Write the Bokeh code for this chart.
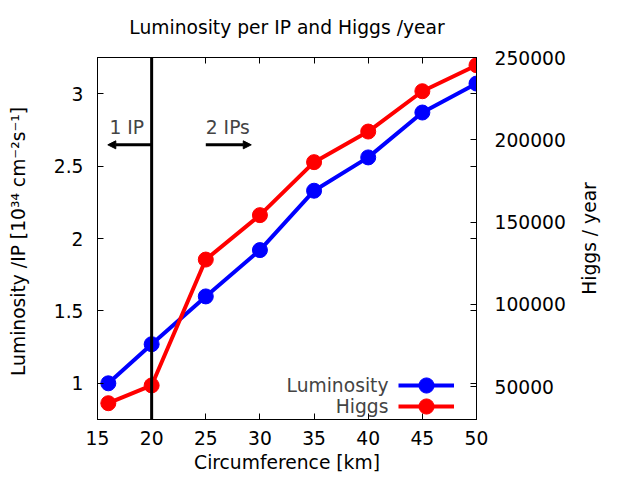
from bokeh.plotting import figure
from bokeh.layouts import row
from bokeh.models import (Range1d, LinearAxis, Span, Arrow, NormalHead, Label,
                          Legend, LegendItem, FixedTicker, BasicTickFormatter)
from bokeh.embed import file_html
from bokeh.resources import INLINE

# ---- data ----
circumference = [16, 20, 25, 30, 35, 40, 45, 50]
luminosity = [1.00, 1.27, 1.60, 1.92, 2.33, 2.56, 2.87, 3.07]
higgs = [39900, 50700, 127200, 154200, 186400, 205000, 229500, 245300]
x_ticks = [15, 20, 25, 30, 35, 40, 45, 50]
y_ticks = [1, 1.5, 2, 2.5, 3]
y2_ticks = [50000, 100000, 150000, 200000, 250000]
ip_boundary = 20
arrow_y = 2.647

FONT = "DejaVu Sans"
FS = "18.7px"

p = figure(width=575, height=480, output_backend="svg", toolbar_location=None,
           x_range=Range1d(15, 50), y_range=Range1d(0.75, 3.25),
           min_border_left=97, min_border_right=99, min_border_top=57,
           min_border_bottom=61)
p.extra_y_ranges = {"higgs": Range1d(30000, 250000)}

p.grid.visible = False
p.outline_line_color = "black"
p.outline_line_width = 1
p.outline_line_alpha = 1
p.background_fill_color = "white"
p.border_fill_color = "white"

def style_axis(ax, labels=True):
    ax.axis_line_color = "black"
    ax.major_tick_in = 6
    ax.major_tick_out = 0
    ax.minor_tick_line_color = None
    ax.major_tick_line_color = "black"
    ax.major_label_text_font = FONT
    ax.major_label_text_font_size = FS
    ax.major_label_text_color = "black" if labels else None
    ax.axis_label_text_font = FONT
    ax.axis_label_text_font_size = FS
    ax.axis_label_text_font_style = "normal"
    ax.axis_label_text_color = "black"

xa = p.xaxis[0]
xa.ticker = FixedTicker(ticks=x_ticks)
xa.axis_label = "Circumference [km]"
style_axis(xa)
xa.major_label_standoff = 11
xa.axis_label_standoff = 4

ya = p.yaxis[0]
ya.ticker = FixedTicker(ticks=y_ticks)
ya.axis_label = "Luminosity /IP  [10³⁴ cm⁻²s⁻¹]"
style_axis(ya)
ya.major_label_standoff = 14
ya.axis_label_standoff = 22

# mirrored ticks on the right (for the left axis), without labels
ym = LinearAxis(ticker=FixedTicker(ticks=y_ticks))
style_axis(ym, labels=False)
ym.major_label_standoff = 0
p.add_layout(ym, "right")

y2 = LinearAxis(y_range_name="higgs", ticker=FixedTicker(ticks=y2_ticks),
                formatter=BasicTickFormatter(use_scientific=False))
style_axis(y2)
y2.major_label_standoff = 18
p.add_layout(y2, "right")

# mirrored ticks on top; its label carries the chart title
xt = LinearAxis(ticker=FixedTicker(ticks=x_ticks),
                axis_label="Luminosity per IP and Higgs /year")
style_axis(xt, labels=False)
xt.major_label_standoff = 0
xt.axis_label_standoff = 20
p.add_layout(xt, "above")

# data
lum_line = p.line(circumference, luminosity, line_color="#0000ff", line_width=4)
lum_pts = p.scatter(circumference, luminosity, size=15, fill_color="#0000ff",
                    line_color="#0000ff")
hig_line = p.line(circumference, higgs, y_range_name="higgs", line_color="#ff0000",
                  line_width=4)
hig_pts = p.scatter(circumference, higgs, y_range_name="higgs", size=15,
                    fill_color="#ff0000", line_color="#ff0000")

# IP boundary
p.add_layout(Span(location=ip_boundary, dimension="height", line_color="black",
                  line_width=3))
p.add_layout(Arrow(x_start=ip_boundary, y_start=arrow_y, x_end=15.95, y_end=arrow_y,
                   line_width=3, line_color="black",
                   end=NormalHead(size=8, fill_color="black", line_color="black")))
p.add_layout(Arrow(x_start=25, y_start=arrow_y, x_end=29.2, y_end=arrow_y,
                   line_width=3, line_color="black",
                   end=NormalHead(size=8, fill_color="black", line_color="black")))
p.add_layout(Label(x=16.1, y=2.764, text="1 IP", text_font=FONT, text_font_size=FS,
                   text_baseline="middle", text_align="left"))
p.add_layout(Label(x=25.0, y=2.764, text="2 IPs", text_font=FONT, text_font_size=FS,
                   text_baseline="middle", text_align="left"))

# legend: sample on the right, text on the left (gnuplot style)
def legend_for(renderers, bottom):
    return Legend(items=[LegendItem(label=" ", renderers=renderers)],
                  location=(301, bottom), glyph_width=56, glyph_height=38,
                  label_width=0, label_standoff=0, label_text_font_size="1px",
                  padding=0, margin=0, border_line_color=None,
                  background_fill_alpha=0)

p.add_layout(legend_for([lum_line, lum_pts], 15), "center")
p.add_layout(legend_for([hig_line, hig_pts], -6), "center")
p.add_layout(Label(x=41.87, y=0.985, text="Luminosity", text_font=FONT,
                   text_font_size=FS, text_baseline="middle", text_align="right"))
p.add_layout(Label(x=41.87, y=0.840, text="Higgs", text_font=FONT,
                   text_font_size=FS, text_baseline="middle", text_align="right"))

# narrow companion panel that carries the right-hand axis title (bottom-to-top)
p2 = figure(width=65, height=480, output_backend="svg", toolbar_location=None,
            x_axis_type=None, x_range=Range1d(15, 50),
            y_range=Range1d(30000, 250000),
            min_border_left=40, min_border_right=0, min_border_top=57,
            min_border_bottom=61)
p2.line(circumference, higgs, line_alpha=0)
p2.grid.visible = False
p2.outline_line_color = None
p2.background_fill_color = "white"
p2.border_fill_color = "white"
ly = p2.yaxis[0]
ly.axis_label = "Higgs / year"
ly.axis_label_text_font = FONT
ly.axis_label_text_font_size = FS
ly.axis_label_text_font_style = "normal"
ly.axis_label_text_color = "black"
ly.axis_label_standoff = 14
ly.axis_line_color = None
ly.major_tick_line_color = None
ly.minor_tick_line_color = None
ly.major_tick_in = 0
ly.major_tick_out = 0
ly.major_label_text_color = None
ly.major_label_standoff = 0

layout = row(p, p2, spacing=0)
open("out.html", "w").write(file_html(layout, INLINE))
